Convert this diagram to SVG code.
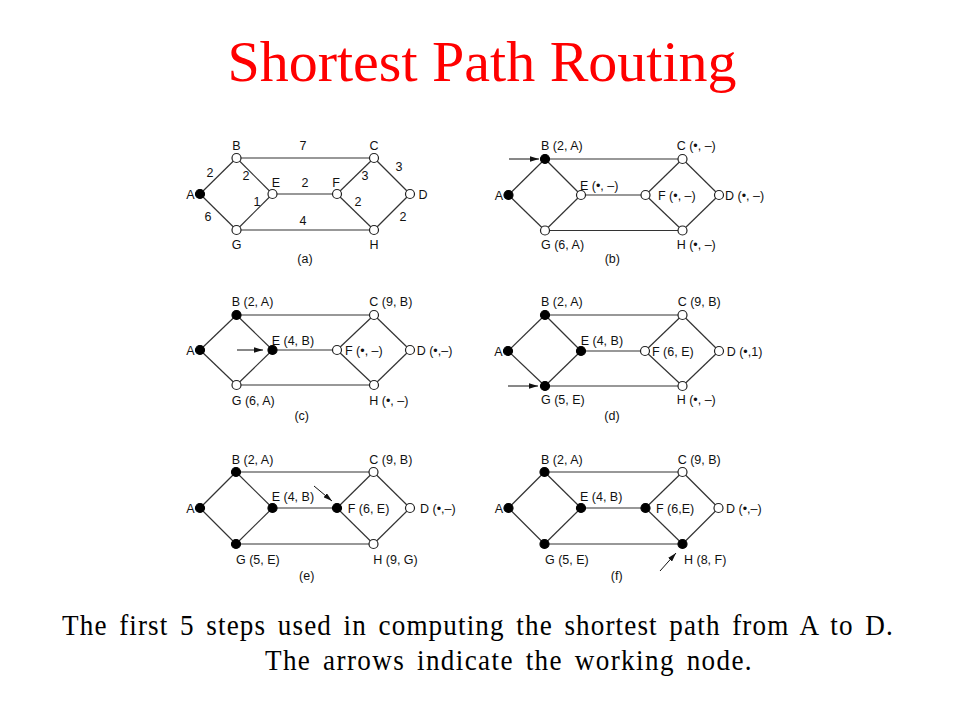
<svg xmlns="http://www.w3.org/2000/svg" width="960" height="720" viewBox="0 0 960 720">
<defs>
<style>
.e{stroke:#333;stroke-width:1.2;fill:none}
.n{fill:#fff;stroke:#222;stroke-width:1.2}
.k{fill:#000;stroke:#000;stroke-width:1.2}
.t{font-family:"Liberation Sans",Arial,sans-serif;font-size:12.5px;fill:#111}
.m{text-anchor:middle}
.r{text-anchor:end}
.w{stroke:#111;stroke-width:1;fill:none}
</style>
<marker id="ah" viewBox="0 0 10 6" refX="10" refY="3" markerWidth="9" markerHeight="5.4" orient="auto" markerUnits="userSpaceOnUse"><path d="M0,0 L10,3 L0,6 z" fill="#111"/></marker>
</defs>
<rect width="960" height="720" fill="#fff"/>
<text id="title" x="482" y="81" text-anchor="middle" font-family="'Liberation Serif','Times New Roman',serif" font-size="58" fill="#ff0000">Shortest Path Routing</text>

<g id="connectors">
<g id="edges-a">
<line class="e" x1="200" y1="194" x2="236.5" y2="158"/>
<line class="e" x1="200" y1="194" x2="236.5" y2="230"/>
<line class="e" x1="236.5" y1="158" x2="374" y2="158"/>
<line class="e" x1="236.5" y1="158" x2="272.5" y2="194"/>
<line class="e" x1="236.5" y1="230" x2="272.5" y2="194"/>
<line class="e" x1="236.5" y1="230" x2="374" y2="230"/>
<line class="e" x1="272.5" y1="194" x2="337" y2="194"/>
<line class="e" x1="337" y1="194" x2="374" y2="158"/>
<line class="e" x1="337" y1="194" x2="374" y2="230"/>
<line class="e" x1="374" y1="158" x2="410" y2="194"/>
<line class="e" x1="374" y1="230" x2="410" y2="194"/>
</g>
<g id="edges-b">
<line class="e" x1="508.5" y1="195" x2="545" y2="159"/>
<line class="e" x1="508.5" y1="195" x2="545" y2="230.5"/>
<line class="e" x1="545" y1="159" x2="682.5" y2="159"/>
<line class="e" x1="545" y1="159" x2="581" y2="195"/>
<line class="e" x1="545" y1="230.5" x2="581" y2="195"/>
<line class="e" x1="545" y1="230.5" x2="682.5" y2="230.5"/>
<line class="e" x1="581" y1="195" x2="645.5" y2="195"/>
<line class="e" x1="645.5" y1="195" x2="682.5" y2="159"/>
<line class="e" x1="645.5" y1="195" x2="682.5" y2="230.5"/>
<line class="e" x1="682.5" y1="159" x2="719" y2="195"/>
<line class="e" x1="682.5" y1="230.5" x2="719" y2="195"/>
<line class="w" x1="509" y1="159" x2="539" y2="159" marker-end="url(#ah)"/>
</g>
<g id="edges-c">
<line class="e" x1="200" y1="350" x2="236.5" y2="315"/>
<line class="e" x1="200" y1="350" x2="236.5" y2="385"/>
<line class="e" x1="236.5" y1="315" x2="374" y2="315"/>
<line class="e" x1="236.5" y1="315" x2="272.5" y2="350"/>
<line class="e" x1="236.5" y1="385" x2="272.5" y2="350"/>
<line class="e" x1="236.5" y1="385" x2="374" y2="385"/>
<line class="e" x1="272.5" y1="350" x2="337" y2="350"/>
<line class="e" x1="337" y1="350" x2="374" y2="315"/>
<line class="e" x1="337" y1="350" x2="374" y2="385"/>
<line class="e" x1="374" y1="315" x2="410" y2="350"/>
<line class="e" x1="374" y1="385" x2="410" y2="350"/>
<line class="w" x1="237" y1="350" x2="263" y2="350" marker-end="url(#ah)"/>
</g>
<g id="edges-d">
<line class="e" x1="508" y1="351" x2="545" y2="315"/>
<line class="e" x1="508" y1="351" x2="545" y2="386"/>
<line class="e" x1="545" y1="315" x2="682.5" y2="315"/>
<line class="e" x1="545" y1="315" x2="581" y2="351"/>
<line class="e" x1="545" y1="386" x2="581" y2="351"/>
<line class="e" x1="545" y1="386" x2="682.5" y2="386"/>
<line class="e" x1="581" y1="351" x2="645" y2="351"/>
<line class="e" x1="645" y1="351" x2="682.5" y2="315"/>
<line class="e" x1="645" y1="351" x2="682.5" y2="386"/>
<line class="e" x1="682.5" y1="315" x2="719" y2="351"/>
<line class="e" x1="682.5" y1="386" x2="719" y2="351"/>
<line class="w" x1="508" y1="386" x2="538" y2="386" marker-end="url(#ah)"/>
</g>
<g id="edges-e">
<line class="e" x1="200" y1="508" x2="236" y2="472"/>
<line class="e" x1="200" y1="508" x2="236" y2="544"/>
<line class="e" x1="236" y1="472" x2="373.5" y2="472"/>
<line class="e" x1="236" y1="472" x2="272.5" y2="508"/>
<line class="e" x1="236" y1="544" x2="272.5" y2="508"/>
<line class="e" x1="236" y1="544" x2="373.5" y2="544"/>
<line class="e" x1="272.5" y1="508" x2="337" y2="508"/>
<line class="e" x1="337" y1="508" x2="373.5" y2="472"/>
<line class="e" x1="337" y1="508" x2="373.5" y2="544"/>
<line class="e" x1="373.5" y1="472" x2="410" y2="508"/>
<line class="e" x1="373.5" y1="544" x2="410" y2="508"/>
<line class="w" x1="314" y1="486" x2="332" y2="501" marker-end="url(#ah)"/>
</g>
<g id="edges-f">
<line class="e" x1="508.5" y1="508" x2="544.5" y2="472"/>
<line class="e" x1="508.5" y1="508" x2="544.5" y2="544"/>
<line class="e" x1="544.5" y1="472" x2="682.5" y2="472"/>
<line class="e" x1="544.5" y1="472" x2="581" y2="508"/>
<line class="e" x1="544.5" y1="544" x2="581" y2="508"/>
<line class="e" x1="544.5" y1="544" x2="682.5" y2="544"/>
<line class="e" x1="581" y1="508" x2="645.5" y2="508"/>
<line class="e" x1="645.5" y1="508" x2="682.5" y2="472"/>
<line class="e" x1="645.5" y1="508" x2="682.5" y2="544"/>
<line class="e" x1="682.5" y1="472" x2="718.5" y2="508"/>
<line class="e" x1="682.5" y1="544" x2="718.5" y2="508"/>
<line class="w" x1="660" y1="571" x2="676" y2="553" marker-end="url(#ah)"/>
</g>
</g>

<g id="panel-a">
<g id="a-A"><circle class="k" cx="200" cy="194" r="4.5"/><text class="t r" x="194.5" y="198.5">A</text></g>
<g id="a-B"><circle class="n" cx="236.5" cy="158" r="4.5"/><text class="t m" x="236.5" y="150">B</text></g>
<g id="a-C"><circle class="n" cx="374" cy="158" r="4.5"/><text class="t m" x="374" y="150">C</text></g>
<g id="a-E"><circle class="n" cx="272.5" cy="194" r="4.5"/><text class="t m" x="276" y="187">E</text></g>
<g id="a-F"><circle class="n" cx="337" cy="194" r="4.5"/><text class="t m" x="336" y="187">F</text></g>
<g id="a-D"><circle class="n" cx="410" cy="194" r="4.5"/><text class="t m" x="423" y="198.5">D</text></g>
<g id="a-G"><circle class="n" cx="236.5" cy="230" r="4.5"/><text class="t m" x="236.5" y="249">G</text></g>
<g id="a-H"><circle class="n" cx="374" cy="230" r="4.5"/><text class="t m" x="374" y="249">H</text></g>
<g id="a-weights">
<text class="t m" x="303" y="150">7</text>
<text class="t m" x="210" y="177">2</text>
<text class="t m" x="246" y="180">2</text>
<text class="t m" x="305" y="187">2</text>
<text class="t m" x="365" y="180">3</text>
<text class="t m" x="399" y="171">3</text>
<text class="t m" x="257" y="206">1</text>
<text class="t m" x="358" y="206">2</text>
<text class="t m" x="208" y="220.5">6</text>
<text class="t m" x="303" y="225">4</text>
<text class="t m" x="403" y="220.5">2</text>
</g>
<text class="t m" x="305" y="263">(a)</text>
</g>

<g id="panel-b">
<g id="b-A"><circle class="k" cx="508.5" cy="195" r="4.5"/><text class="t r" x="503" y="199.5">A</text></g>
<g id="b-B"><circle class="k" cx="545" cy="159" r="4.5"/><text class="t" x="541" y="150.2">B (2, A)</text></g>
<g id="b-C"><circle class="n" cx="682.5" cy="159" r="4.5"/><text class="t" x="676.7" y="150.2">C (•, –)</text></g>
<g id="b-E"><circle class="n" cx="581" cy="195" r="4.5"/><text class="t" x="580" y="189.5">E (•, –)</text></g>
<g id="b-F"><circle class="n" cx="645.5" cy="195" r="4.5"/><text class="t" x="658" y="199.5">F (•, –)</text></g>
<g id="b-D"><circle class="n" cx="719" cy="195" r="4.5"/><text class="t" x="725" y="199.5">D (•, –)</text></g>
<g id="b-G"><circle class="n" cx="545" cy="230.5" r="4.5"/><text class="t" x="541" y="249">G (6, A)</text></g>
<g id="b-H"><circle class="n" cx="682.5" cy="230.5" r="4.5"/><text class="t" x="676.7" y="249">H (•, –)</text></g>
<text class="t m" x="612.3" y="263">(b)</text>
</g>

<g id="panel-c">
<g id="c-A"><circle class="k" cx="200" cy="350" r="4.5"/><text class="t r" x="194.5" y="354.5">A</text></g>
<g id="c-B"><circle class="k" cx="236.5" cy="315" r="4.5"/><text class="t" x="231.7" y="306.2">B (2, A)</text></g>
<g id="c-C"><circle class="n" cx="374" cy="315" r="4.5"/><text class="t" x="369.3" y="306.2">C (9, B)</text></g>
<g id="c-E"><circle class="k" cx="272.5" cy="350" r="4.5"/><text class="t" x="271.7" y="344.5">E (4, B)</text></g>
<g id="c-F"><circle class="n" cx="337" cy="350" r="4.5"/><text class="t" x="345" y="354.5">F (•, –)</text></g>
<g id="c-D"><circle class="n" cx="410" cy="350" r="4.5"/><text class="t" x="416.7" y="354.5">D (•,–)</text></g>
<g id="c-G"><circle class="n" cx="236.5" cy="385" r="4.5"/><text class="t" x="231.7" y="404.5">G (6, A)</text></g>
<g id="c-H"><circle class="n" cx="374" cy="385" r="4.5"/><text class="t" x="369.3" y="404.5">H (•, –)</text></g>
<text class="t m" x="301.7" y="419.5">(c)</text>
</g>

<g id="panel-d">
<g id="d-A"><circle class="k" cx="508" cy="351" r="4.5"/><text class="t r" x="502.5" y="355.5">A</text></g>
<g id="d-B"><circle class="k" cx="545" cy="315" r="4.5"/><text class="t" x="541" y="306.2">B (2, A)</text></g>
<g id="d-C"><circle class="n" cx="682.5" cy="315" r="4.5"/><text class="t" x="677.7" y="306.2">C (9, B)</text></g>
<g id="d-E"><circle class="k" cx="581" cy="351" r="4.5"/><text class="t" x="580.7" y="344.5">E (4, B)</text></g>
<g id="d-F"><circle class="n" cx="645" cy="351" r="4.5"/><text class="t" x="652" y="355.5">F (6, E)</text></g>
<g id="d-D"><circle class="n" cx="719" cy="351" r="4.5"/><text class="t" x="726.7" y="355.5">D (•,1)</text></g>
<g id="d-G"><circle class="k" cx="545" cy="386" r="4.5"/><text class="t" x="541" y="404">G (5, E)</text></g>
<g id="d-H"><circle class="n" cx="682.5" cy="386" r="4.5"/><text class="t" x="676.7" y="404">H (•, –)</text></g>
<text class="t m" x="612" y="419.5">(d)</text>
</g>

<g id="panel-e">
<g id="e-A"><circle class="k" cx="200" cy="508" r="4.5"/><text class="t r" x="194.5" y="512.5">A</text></g>
<g id="e-B"><circle class="k" cx="236" cy="472" r="4.5"/><text class="t" x="231.7" y="463.5">B (2, A)</text></g>
<g id="e-C"><circle class="n" cx="373.5" cy="472" r="4.5"/><text class="t" x="369.3" y="463.5">C (9, B)</text></g>
<g id="e-E"><circle class="k" cx="272.5" cy="508" r="4.5"/><text class="t" x="271.7" y="501">E (4, B)</text></g>
<g id="e-F"><circle class="k" cx="337" cy="508" r="4.5"/><text class="t" x="347.7" y="512.5">F (6, E)</text></g>
<g id="e-D"><circle class="n" cx="410" cy="508" r="4.5"/><text class="t" x="420" y="512.5">D (•,–)</text></g>
<g id="e-G"><circle class="k" cx="236" cy="544" r="4.5"/><text class="t" x="236" y="564">G (5, E)</text></g>
<g id="e-H"><circle class="n" cx="373.5" cy="544" r="4.5"/><text class="t" x="373.3" y="564">H (9, G)</text></g>
<text class="t m" x="306.7" y="579.5">(e)</text>
</g>

<g id="panel-f">
<g id="f-A"><circle class="k" cx="508.5" cy="508" r="4.5"/><text class="t r" x="503" y="512.5">A</text></g>
<g id="f-B"><circle class="k" cx="544.5" cy="472" r="4.5"/><text class="t" x="541" y="463.5">B (2, A)</text></g>
<g id="f-C"><circle class="n" cx="682.5" cy="472" r="4.5"/><text class="t" x="677.7" y="463.5">C (9, B)</text></g>
<g id="f-E"><circle class="k" cx="581" cy="508" r="4.5"/><text class="t" x="580" y="501">E (4, B)</text></g>
<g id="f-F"><circle class="k" cx="645.5" cy="508" r="4.5"/><text class="t" x="656" y="512.5">F (6,E)</text></g>
<g id="f-D"><circle class="n" cx="718.5" cy="508" r="4.5"/><text class="t" x="726" y="512.5">D (•,–)</text></g>
<g id="f-G"><circle class="k" cx="544.5" cy="544" r="4.5"/><text class="t" x="545" y="564">G (5, E)</text></g>
<g id="f-H"><circle class="k" cx="682.5" cy="544" r="4.5"/><text class="t" x="684" y="564">H (8, F)</text></g>
<text class="t m" x="616.7" y="579.5">(f)</text>
</g>

<g id="caption" font-family="'Liberation Serif','Times New Roman',serif" font-size="29.5" fill="#000" word-spacing="4">
<text transform="translate(62,634.5) scale(0.92,1)" x="0" y="0" textLength="903">The first 5 steps used in computing the shortest path from A to D.</text>
<text transform="translate(265,669.5) scale(0.92,1)" x="0" y="0" textLength="529">The arrows indicate the working node.</text>
</g>
</svg>
